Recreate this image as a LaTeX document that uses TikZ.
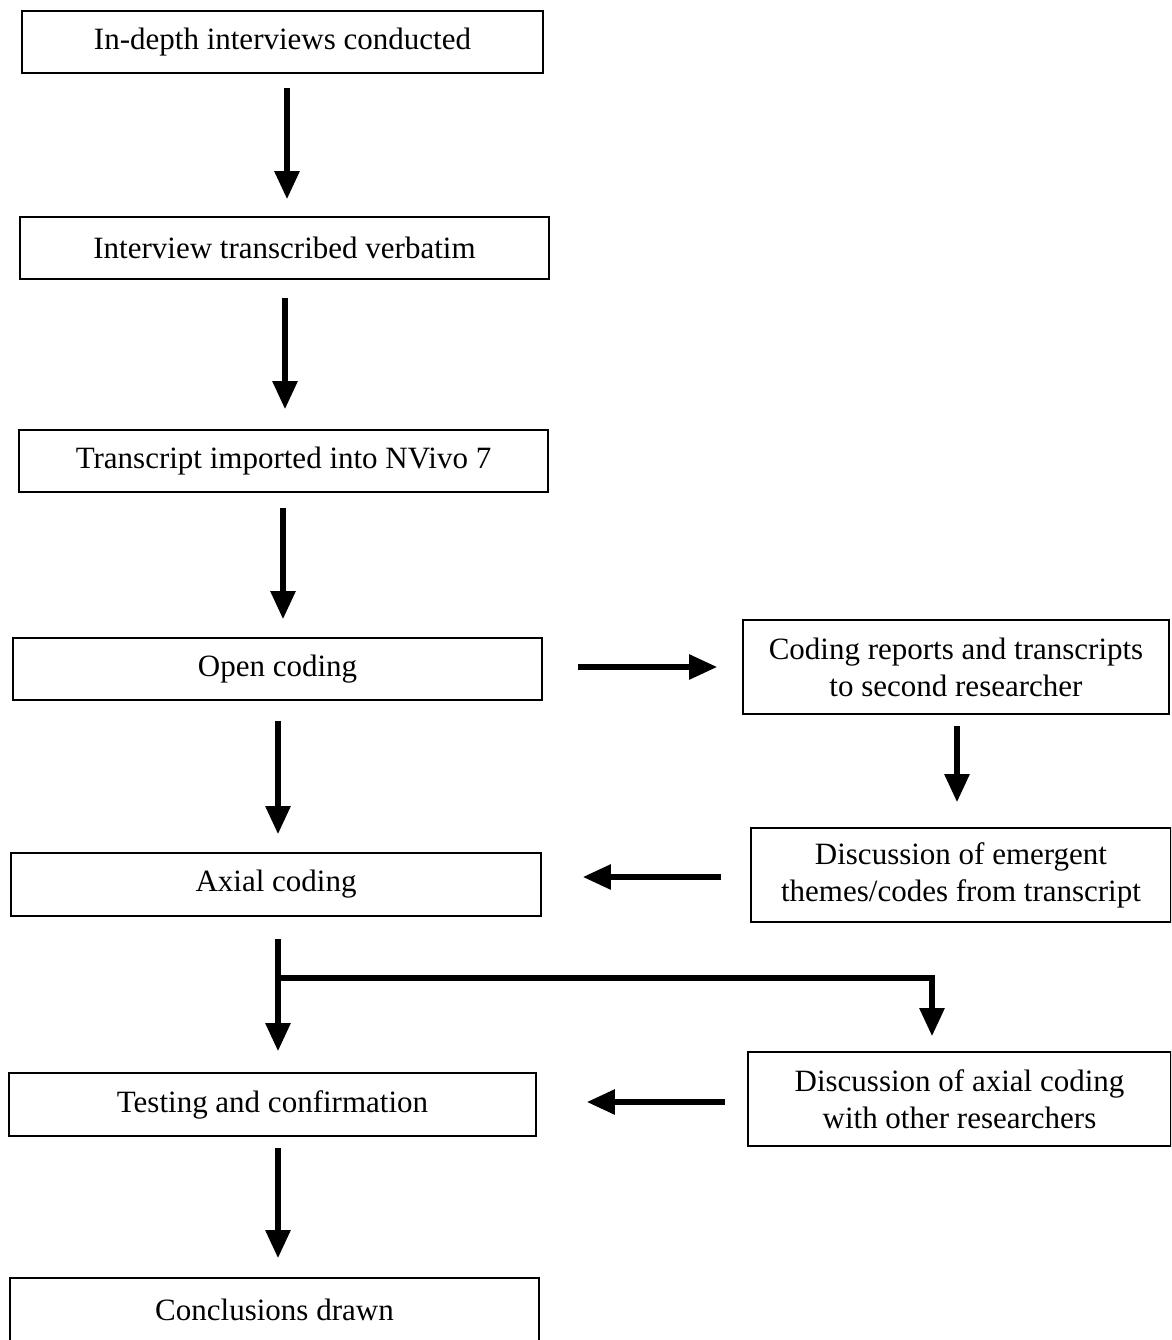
\documentclass[tikz,border=0pt]{standalone}
\usepackage{fontspec}
\setmainfont{Liberation Serif}
\usetikzlibrary{arrows.meta}
\begin{document}
\begin{tikzpicture}[x=1pt,y=-1pt,
  box/.style={draw,line width=1.6pt,rectangle,align=center,inner sep=0pt,
    font=\fontsize{31}{37}\selectfont},
  arr/.style={line width=5.5pt,-{Triangle[width=24pt,length=28pt]},line join=miter}]
\useasboundingbox (0,0) rectangle (1171,1340);
\clip (0,0) rectangle (1171,1340);
% left column
\node[box,minimum width=521pt,minimum height=62pt] (n1) at (282.5,42) {In-depth interviews conducted};
\node[box,minimum width=529pt,minimum height=62pt] (n2) at (284.5,248) {Interview transcribed verbatim};
\node[box,minimum width=529pt,minimum height=62pt] (n3) at (283.5,461) {Transcript imported into NVivo 7};
\node[box,minimum width=529pt,minimum height=62pt] (n4) at (277.5,669) {Open coding};
\node[box,minimum width=530pt,minimum height=63pt] (n5) at (276,884.5) {Axial coding};
\node[box,minimum width=527pt,minimum height=63pt] (n6) at (272.5,1104.5) {Testing and confirmation};
\node[box,minimum width=529pt,minimum height=64pt] (n7) at (274.5,1310) {Conclusions drawn};
% right column
\node[box,minimum width=426pt,minimum height=94pt] (r1) at (956,667) {Coding reports and transcripts\\to second researcher};
\node[box,minimum width=420pt,minimum height=94pt] (r2) at (961,875) {Discussion of emergent\\themes/codes from transcript};
\node[box,minimum width=423pt,minimum height=94pt] (r3) at (959.5,1099) {Discussion of axial coding\\with other researchers};
% connectors
\draw[arr] ([xshift=4.5pt,yshift=-14pt]n1.south) -- ([xshift=2.5pt,yshift=17pt]n2.north);
\draw[arr] ([xshift=0.5pt,yshift=-18pt]n2.south) -- ([xshift=1.5pt,yshift=20pt]n3.north);
\draw[arr] ([xshift=-0.5pt,yshift=-15pt]n3.south) -- ([xshift=5.5pt,yshift=18pt]n4.north);
\draw[arr] ([xshift=0.5pt,yshift=-20pt]n4.south) -- ([xshift=2pt,yshift=18pt]n5.north);
\draw[arr] ([xshift=35pt,yshift=2pt]n4.east) -- ([xshift=-25pt]r1.west);
\draw[arr] ([xshift=1pt,yshift=-11pt]r1.south) -- ([xshift=-4pt,yshift=25pt]r2.north);
\draw[arr] ([xshift=-29pt,yshift=-2pt]r2.west) -- ([xshift=41pt,yshift=7.5pt]n5.east);
\draw[arr] ([xshift=2pt,yshift=-22pt]n5.south) -- ([xshift=5.5pt,yshift=21pt]n6.north);
\coordinate (br) at (278,978);
\draw[arr] ([xshift=-2.75pt]br) -| ([xshift=-27.5pt,yshift=15pt]r3.north);
\draw[arr] ([xshift=-22pt,yshift=-3pt]r3.west) -- ([xshift=50pt,yshift=2.5pt]n6.east);
\draw[arr] ([xshift=5.5pt,yshift=-11pt]n6.south) -- ([xshift=3.5pt,yshift=19pt]n7.north);
\end{tikzpicture}
\end{document}
